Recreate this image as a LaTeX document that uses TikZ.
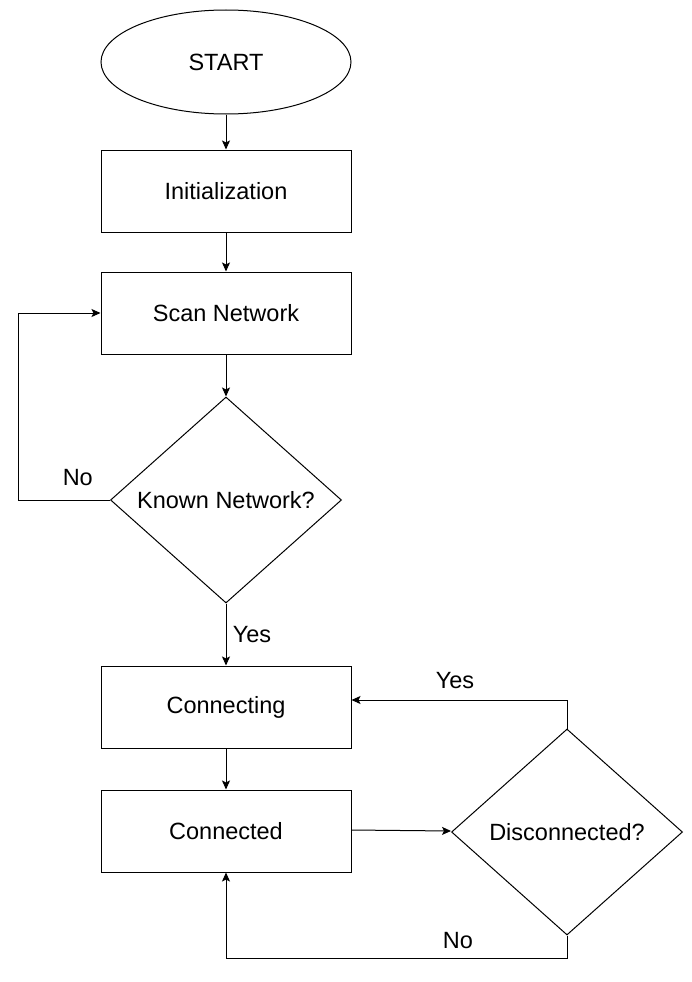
\documentclass[tikz,border=0pt]{standalone}
\usepackage{fontspec}
\setmainfont{Liberation Sans}
\usetikzlibrary{shapes.geometric,arrows.meta}
\begin{document}
\begin{tikzpicture}[x=1pt, y=-1pt, line width=1pt,
        every node/.style={font=\fontsize{23.5}{28}\selectfont},
        terminal/.style={draw, ellipse, inner sep=0pt, minimum width=250pt, minimum height=104pt},
        stepbox/.style={draw, rectangle, inner sep=0pt, minimum width=250pt, minimum height=82pt},
        decision/.style={draw, diamond, inner sep=0pt, minimum width=231pt, minimum height=206pt},
        flow/.style={black, -{Stealth[length=9pt, width=8pt, inset=2pt]}}]
        \useasboundingbox (0, 0) rectangle (691, 982);
        \node [terminal] at (226, 62) (start) {START};
        \node [stepbox] at (226, 191) (init) {Initialization};
        \node [stepbox] at (226, 313) (scan) {Scan Network};
        \node [decision] at (226, 500) (known) {Known Network?};
        \node [stepbox] at (226, 707) (connecting) {Connecting};
        \node [stepbox] at (226, 831) (connected) {Connected};
        \node [decision] at (567, 832) (disc) {Disconnected?};
        \coordinate (noturn) at (18, 500);
        \coordinate (nobend) at (567, 958);

        \draw [flow] (start) -- (init);
        \draw [flow] (init) -- (scan);
        \draw [flow] (scan) -- (known);
        \draw [flow] (known) -- node[right=3pt] {Yes} (connecting);
        \draw [flow] (known.west) -- node[pos=0.35, above=10pt] {No} (noturn) |- (scan.west);
        \draw [flow] (connecting) -- (connected);
        \draw [flow] ([yshift=1pt]connected.east) -- ([yshift=1pt]disc.west);
        \draw [flow] (disc.north) |- node[pos=0.76, above=7pt] {Yes} ([yshift=7pt]connecting.east);
        \draw [flow] (disc.south) -- (nobend) -| node[pos=0.16, above=5pt] {No} (connected.south);
\end{tikzpicture}
\end{document}
